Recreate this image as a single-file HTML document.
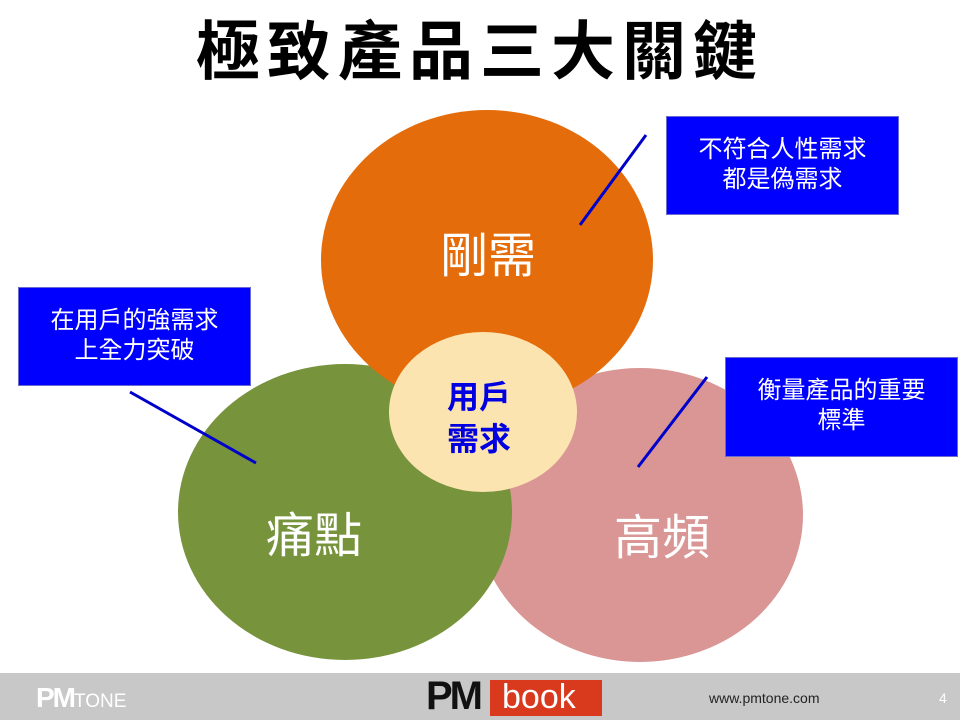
<!DOCTYPE html>
<html><head><meta charset="utf-8"><style>
body{margin:0;width:960px;height:720px;position:relative;background:#fff;overflow:hidden;font-family:"Liberation Sans","Noto Sans CJK TC",sans-serif}
.t{position:absolute;white-space:nowrap}
.box{position:absolute;background:#0000ff;color:#fff;font-size:24px;line-height:30px;text-align:center;box-sizing:border-box;padding-top:18px;border:1px solid #6a6ad0}
</style></head><body>
<div class="t" style="left:0;width:960px;top:10px;text-align:center;font-size:64px;font-weight:bold;line-height:84px;letter-spacing:7px;color:#000">極致產品三大關鍵</div>
<svg width="960" height="720" style="position:absolute;left:0;top:0">
<ellipse cx="640" cy="515" rx="163" ry="147" fill="#d99694"/>
<ellipse cx="345" cy="512" rx="167" ry="148" fill="#77933c"/>
<ellipse cx="487" cy="260" rx="166" ry="150" fill="#e46c0a"/>
<ellipse cx="483" cy="412" rx="94" ry="80" fill="#fce4b0"/>
<line x1="646" y1="135" x2="580" y2="225" stroke="#0000cc" stroke-width="3"/>
<line x1="130" y1="392" x2="256" y2="463" stroke="#0000cc" stroke-width="3"/>
<line x1="707" y1="377" x2="638" y2="467" stroke="#0000cc" stroke-width="3"/>
<rect x="0" y="673" width="960" height="47" fill="#c8c8c8"/>
<rect x="490" y="680" width="112" height="36" fill="#d93a1e"/>
</svg>
<div class="t" style="left:440px;top:216px;font-size:48px;color:#fff">剛需</div>
<div class="t" style="left:266px;top:496px;font-size:48px;color:#fff">痛點</div>
<div class="t" style="left:614px;top:498px;font-size:48px;color:#fff">高頻</div>
<div class="t" style="left:447px;top:376px;font-size:32px;line-height:42px;font-weight:bold;color:#0000e0;text-align:center">用戶<br>需求</div>
<div class="box" style="left:666px;top:116px;width:233px;height:99px">不符合人性需求<br>都是偽需求</div>
<div class="box" style="left:18px;top:287px;width:233px;height:99px">在用戶的強需求<br>上全力突破</div>
<div class="box" style="left:725px;top:357px;width:233px;height:100px">衡量產品的重要<br>標準</div>
<div class="t" style="left:36px;top:682px;font-size:28px;font-weight:bold;color:#fff;letter-spacing:-2px">PM<span style="font-size:19px;font-weight:normal;letter-spacing:0">TONE</span></div>
<div class="t" style="left:426px;top:674px;font-size:40px;font-weight:bold;color:#111;letter-spacing:-3px">PM</div>
<div class="t" style="left:502px;top:678px;font-size:34px;color:#fff">book</div>
<div class="t" style="left:709px;top:690px;font-size:14px;color:#222">www.pmtone.com</div>
<div class="t" style="left:939px;top:690px;font-size:14px;color:#fff">4</div>
</body></html>
